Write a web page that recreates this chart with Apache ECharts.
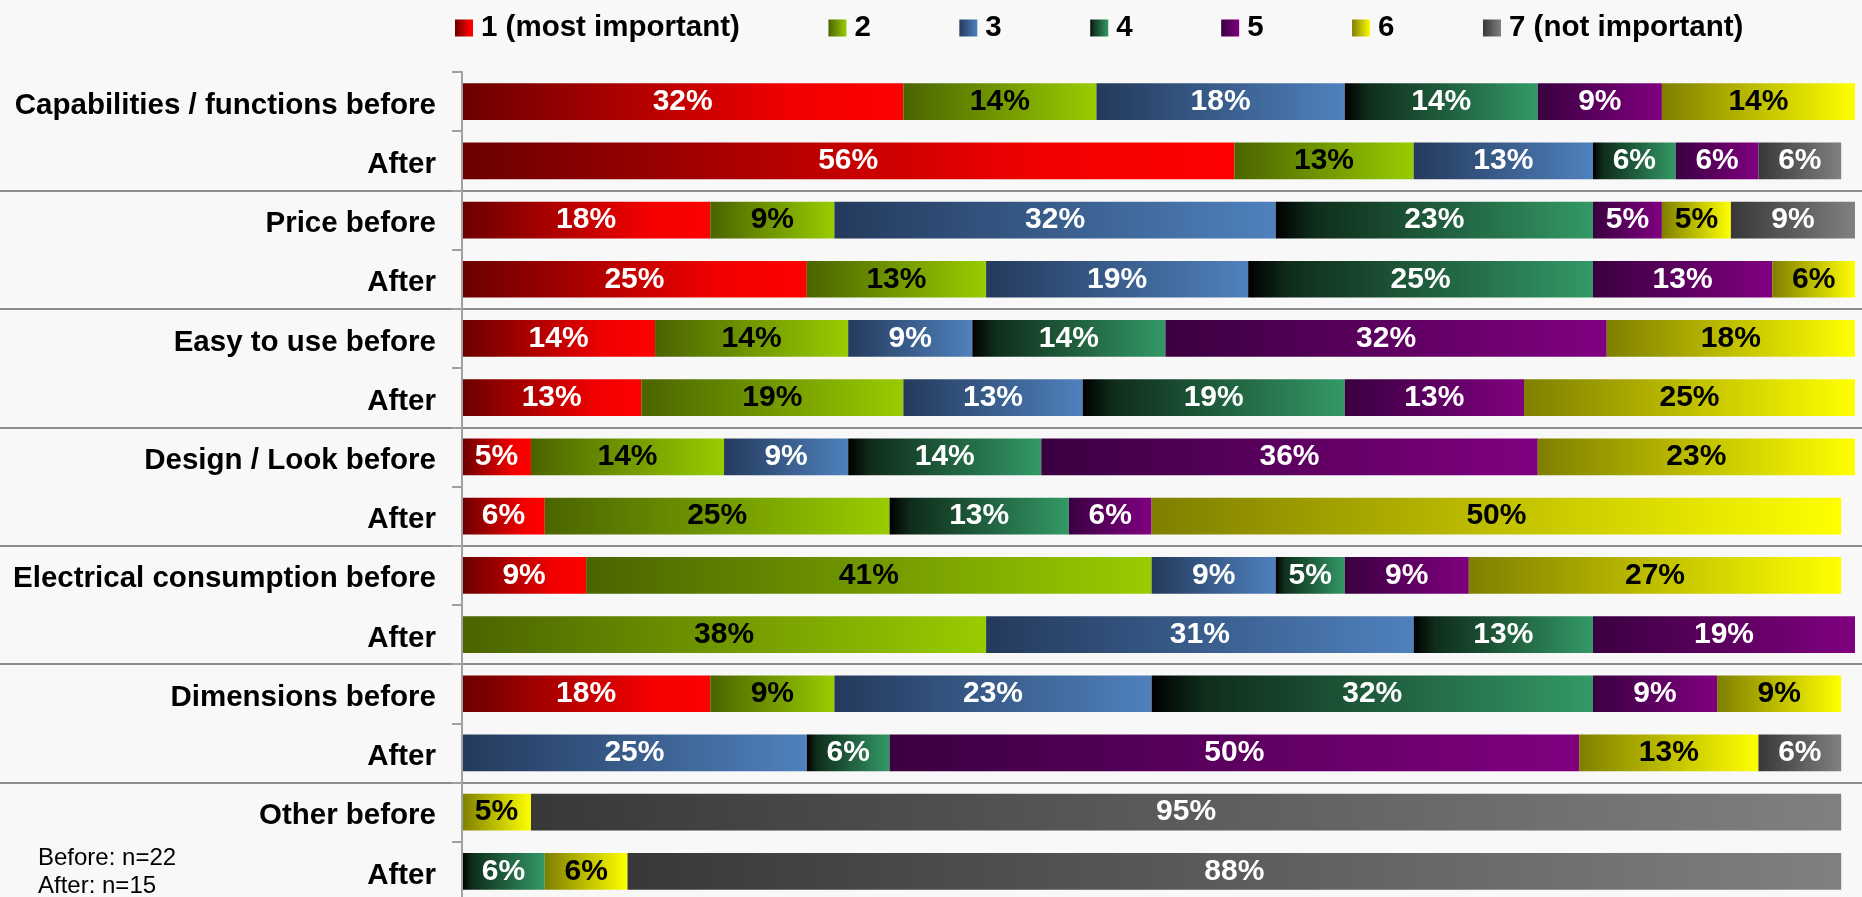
<!DOCTYPE html>
<html>
<head>
<meta charset="utf-8">
<script src="https://cdn.jsdelivr.net/npm/echarts@6/dist/echarts.min.js"></script>
<style>
html,body{margin:0;padding:0;background:#f8f8f8;}
#chart{width:1862px;height:897px;}
</style>
</head>
<body>
<div id="chart"></div>
<script>
const categories = ['Capabilities / functions before','After','Price before','After','Easy to use before','After','Design / Look before','After','Electrical consumption before','After','Dimensions before','After','Other before','After'];
const seriesNames = ['1 (most important)','2','3','4','5','6','7 (not important)'];
const rank1 = [32,56,18,25,14,13,5,6,9,null,18,null,null,null];
const rank2 = [14,13,9,13,14,19,14,25,41,38,9,null,null,null];
const rank3 = [18,13,32,19,9,13,9,null,9,31,23,25,null,null];
const rank4 = [14,6,23,25,14,19,14,13,5,13,32,6,null,6];
const rank5 = [9,6,5,13,32,13,36,6,9,19,9,50,null,null];
const rank6 = [14,null,5,6,18,25,23,50,27,null,9,13,5,6];
const rank7 = [null,6,9,null,null,null,null,null,null,null,null,6,95,88];
const noteText = 'Before: n=22\nAfter: n=15';

const seriesData = [rank1,rank2,rank3,rank4,rank5,rank6,rank7];
const gradients = [
  [[0,'#6b0000'],[0.75,'#f20000'],[1,'#ff0000']],
  [[0,'#4a6400'],[1,'#99cc00']],
  [[0,'#243a5c'],[1,'#4f81bd']],
  [[0,'#000000'],[0.12,'#0f2d1b'],[1,'#339966']],
  [[0,'#3a0040'],[1,'#800080']],
  [[0,'#7f7f00'],[1,'#ffff00']],
  [[0,'#383838'],[1,'#808080']]
];
const labelColors = ['#fff','#000','#fff','#fff','#fff','#000','#fff'];
const FONT = "'Liberation Sans', Arial, sans-serif";

function grad(stops){
  return new echarts.graphic.LinearGradient(0,0,1,0, stops.map(s=>({offset:s[0],color:s[1]})));
}

const chart = echarts.init(document.getElementById('chart'), null, {renderer:'canvas'});
const series = seriesNames.map((name,i)=>({
  name: name,
  type: 'bar',
  stack: 'total',
  xAxisIndex: 0,
  yAxisIndex: 0,
  barCategoryGap: '38%',
  data: seriesData[i],
  itemStyle: { color: grad(gradients[i]) },
  label: {
    show: true,
    position: 'inside',
    formatter: p => p.value + '%',
    color: labelColors[i],
    fontFamily: FONT,
    fontWeight: 'bold',
    fontSize: 30,
    textBorderWidth: 0
  }
}));

chart.setOption({
  backgroundColor: '#f8f8f8',
  animation: false,
  title: {
    text: noteText,
    left: 38,
    top: 844,
    padding: 0,
    textStyle: { fontFamily: FONT, fontWeight: 'normal', fontSize: 24, lineHeight: 28, color: '#000' }
  },
  legend: {
    left: 450,
    top: 8,
    itemWidth: 18,
    itemHeight: 17,
    itemGap: 88.5,
    icon: 'rect',
    data: seriesNames,
    textStyle: { fontFamily: FONT, fontWeight: 'bold', fontSize: 29.5, color: '#000', padding: [0,0,0,3] }
  },
  grid: [
    { left: 462, right: 7, top: 72, height: 829, containLabel: false, outerBoundsMode: 'none' },
    { left: 0, right: 0, top: 72, height: 829, containLabel: false, outerBoundsMode: 'none' }
  ],
  xAxis: [
    { type: 'value', gridIndex: 0, min: 0, max: 101, show: false },
    { type: 'value', gridIndex: 1, min: 0, max: 1, show: false }
  ],
  yAxis: [
    {
      type: 'category', gridIndex: 0, data: categories, inverse: true,
      axisLine: { show: true, lineStyle: { color: '#a0a0a0', width: 2 } },
      axisTick: { show: true, length: 10, interval: 0, lineStyle: { color: '#a0a0a0', width: 2 } },
      axisLabel: {
        interval: 0, margin: 26, color: '#000',
        formatter: v => '{t|' + v + '}',
        rich: { t: { fontFamily: FONT, fontWeight: 'bold', fontSize: 29.5, color: '#000', padding: [8,0,0,0] } }
      },
      splitLine: { show: false },
      z: 10
    },
    {
      type: 'category', gridIndex: 1, data: categories, inverse: true,
      axisLine: { show: false }, axisTick: { show: false }, axisLabel: { show: false },
      splitLine: { show: true, interval: (i) => i > 0 && i % 2 === 0, lineStyle: { color: '#8c8c8c', width: 2 } }
    }
  ],
  series: series
});
</script>
</body>
</html>
